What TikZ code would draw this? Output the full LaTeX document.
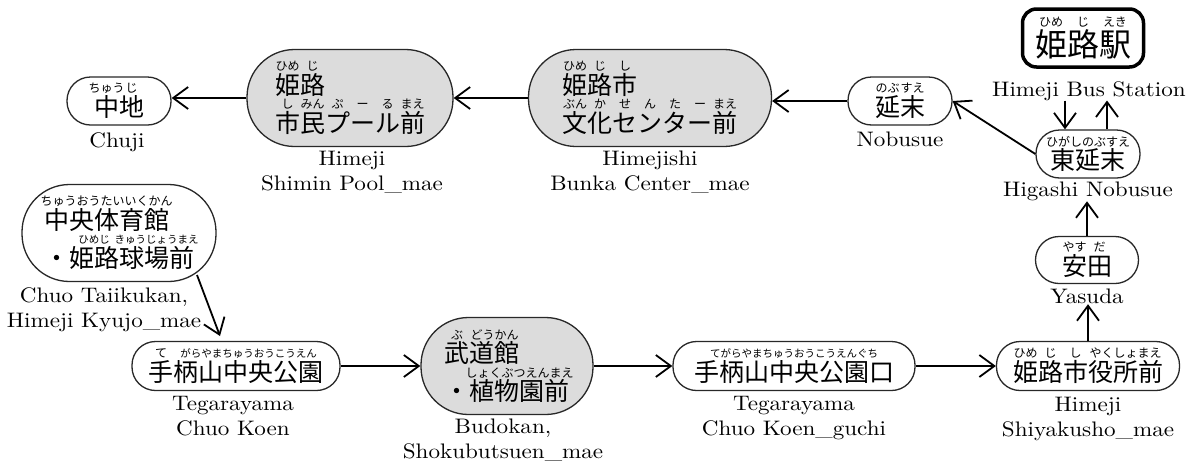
\documentclass[tikz,border=0pt]{standalone}
\usepackage{fontspec}
\newfontfamily\cjk{Noto Sans CJK JP}
\newfontfamily\lab{lmroman10-regular.otf}[FakeStretch=1.1]
\usetikzlibrary{arrows.meta}
\definecolor{boxgray}{RGB}{220,220,220}
\definecolor{edgec}{RGB}{40,40,40}
\newcommand{\rbf}{\fontsize{12}{12}\selectfont}
\newcommand{\rbs}{\fontsize{10.5}{10.5}\selectfont}
\newcommand{\rb}[2]{\leavevmode\setbox0=\hbox{#1}\rlap{\raisebox{0.95em}{\makebox[\wd0][c]{\rbf #2}}}\box0}
\tikzset{
  stn/.style={draw=edgec, line width=1.3pt, fill=white, rounded corners=23.5pt, inner sep=0pt,
    font=\cjk\fontsize{25}{38}\selectfont},
  bigstn/.style={stn, fill=boxgray, rounded corners=47.5pt, align=left},
  termbox/.style={draw=black, line width=3.5pt, rounded corners=14pt, inner sep=0pt,
    font=\cjk\fontsize{32}{34}\selectfont},
  lbl/.style={inner sep=0pt, anchor=north, align=center, font=\lab\fontsize{21}{25}\selectfont},
  arr/.style={line width=1.8pt, -{Straight Barb[length=15pt,width=22pt]}},
}
\begin{document}
\begin{tikzpicture}[x=1pt,y=-1pt]
\fill[white] (0,0) rectangle (1191,464);
\useasboundingbox (0,0) rectangle (1191,464);
% stops
\node[stn, minimum width=104pt, minimum height=48pt] (chuji) at (119,101) {\rb{中}{ちゅう}\rb{地}{じ}};
\node[bigstn, minimum width=206pt, minimum height=97pt] (pool) at (350,98)
  {\rb{姫}{ひめ}\rb{路}{じ}\\\rb{市}{し}\rb{民}{みん}\rb{プ}{ぷ}\rb{ー}{ー}\rb{ル}{る}\rb{前}{まえ}};
\node[bigstn, minimum width=243pt, minimum height=97pt] (bunka) at (650,98)
  {\rb{姫}{ひめ}\rb{路}{じ}\rb{市}{し}\\\rb{文}{ぶん}\rb{化}{か}\rb{セ}{せ}\rb{ン}{ん}\rb{タ}{た}\rb{ー}{ー}\rb{前}{まえ}};
\node[stn, minimum width=104pt, minimum height=48pt] (nobusue) at (900,101) {\rb{延}{のぶ}\rb{末}{すえ}};
\node[termbox, minimum width=121pt, minimum height=58pt] (himeji) at (1083,38) {\rb{姫}{ひめ}\rb{路}{じ}\rb{駅}{えき}};
\node[stn, minimum width=104pt, minimum height=48pt] (higashi) at (1088,154) {\rb{東延末}{ひがしのぶすえ}};
\node[stn, minimum width=103pt, minimum height=47pt] (yasuda) at (1087,260) {\rb{安}{やす}\rb{田}{だ}};
\node[stn, minimum width=183pt, minimum height=49pt] (shiyakusho) at (1088,366)
  {\rb{姫}{ひめ}\rb{路}{じ}\rb{市}{し}\rb{役所前}{やくしょまえ}};
\node[stn, minimum width=242pt, minimum height=49pt] (guchi) at (794,366)
  {\rb{手柄山中央公園口}{\rbs てがらやまちゅうおうこうえんぐち}};
\node[bigstn, minimum width=172pt, minimum height=97pt] (budokan) at (507,366)
  {\rb{武}{ぶ}\rb{道館}{どうかん}\\・\rb{植物園前}{しょくぶつえんまえ}};
\node[stn, minimum width=208pt, minimum height=49pt] (koen) at (236,366)
  {\rb{手}{て}\rb{柄山中央公園}{\rbs がらやまちゅうおうこうえん}};
\node[bigstn, fill=white, minimum width=194pt, minimum height=97pt] (taiikukan) at (119,233)
  {\rb{中央体育館}{ちゅうおうたいいくかん}\\・\rb{姫路}{\rbs ひめじ}\rb{球場前}{\rbs きゅうじょうまえ}};
% labels
\node[lbl] (chuji-l) at (117,132) {Chuji};
\node[lbl] (pool-l) at (352,151) {Himeji\\Shimin Pool\_mae};
\node[lbl] (bunka-l) at (650,151) {Himejishi\\Bunka Center\_mae};
\node[lbl] (nobusue-l) at (900,132) {Nobusue};
\node[lbl] (himeji-l) at (1089,81) {Himeji Bus Station};
\node[lbl] (higashi-l) at (1088,182) {Higashi Nobusue};
\node[lbl] (yasuda-l) at (1087,289) {Yasuda};
\node[lbl] (shiyakusho-l) at (1088,397) {Himeji\\Shiyakusho\_mae};
\node[lbl] (guchi-l) at (794,396) {Tegarayama\\Chuo Koen\_guchi};
\node[lbl] (budokan-l) at (503,419) {Budokan,\\Shokubutsuen\_mae};
\node[lbl] (koen-l) at (233,396) {Tegarayama\\Chuo Koen};
\node[lbl] (taiikukan-l) at (104,287) {Chuo Taiikukan,\\Himeji Kyujo\_mae};
% connectors
\coordinate (tkout) at (197,275);
\coordinate (tkin) at (220,336);
\draw[arr] (pool.west) -- (pool.west -| chuji.east);
\draw[arr] (bunka.west) -- (bunka.west -| pool.east);
\draw[arr] (nobusue.west) -- (nobusue.west -| bunka.east);
\draw[arr] (higashi.west) -- (nobusue.east);
\draw[arr] ([xshift=-23pt]higashi.north |- himeji-l.south) -- ([xshift=-23pt]higashi.north);
\draw[arr] ([xshift=19pt]higashi.north) -- ([xshift=19pt]higashi.north |- himeji-l.south);
\draw[arr] (yasuda.north) -- (yasuda.north |- higashi-l.south);
\draw[arr] (shiyakusho.north) -- (shiyakusho.north |- yasuda-l.south);
\draw[arr] (koen.east) -- (budokan.west |- koen.east);
\draw[arr] (budokan.east |- guchi.west) -- (guchi.west);
\draw[arr] (guchi.east) -- (shiyakusho.west);
\draw[arr] (tkout) -- (tkin);
\end{tikzpicture}
\end{document}
